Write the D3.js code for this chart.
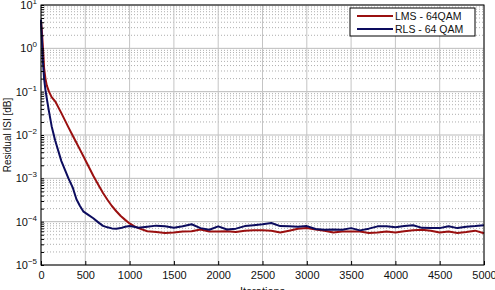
<!DOCTYPE html>
<html>
<head>
<meta charset="utf-8">
<script src="https://cdn.jsdelivr.net/npm/d3@7"></script>
<style>
  body { margin: 0; background: #fff; }
  svg { display: block; font-family: "Liberation Sans", Arial, sans-serif; }
</style>
</head>
<body>
<div class="canvas"></div>
<script>
// iterations shared by both curves
const iterations = [
  0, 10, 20, 35, 50, 65, 90, 120, 160, 230, 310, 360, 400, 440, 480, 530, 590, 650,
  700, 750, 800, 850, 900, 950, 1000, 1050, 1100,
  1200, 1300, 1400, 1500, 1600, 1700, 1800, 1900, 2000, 2100, 2200, 2300, 2400, 2500,
  2600, 2700, 2800, 2900, 3000, 3100, 3200, 3300, 3400, 3500, 3600, 3700, 3800, 3900,
  4000, 4100, 4200, 4300, 4400, 4500, 4600, 4700, 4800, 4900, 5000
];

// LMS - 64QAM residual ISI
const lmsValues = [
  4.3, 2.5, 1.2, 0.35, 0.2, 0.14, 0.1, 0.075, 0.06, 0.032, 0.015, 0.0095, 0.0066, 0.0046,
  0.0032, 0.002, 0.00115, 6.9e-4, 4.6e-4, 3.2e-4, 2.3e-4, 1.74e-4, 1.35e-4, 1.1e-4, 9.1e-5,
  7.9e-5, 7.1e-5,
  6.0e-5, 5.8e-5, 5.5e-5, 5.6e-5, 5.9e-5, 6.0e-5, 6.6e-5, 5.9e-5, 5.9e-5, 6.0e-5, 5.8e-5,
  6.2e-5, 6.3e-5, 6.3e-5, 6.2e-5, 5.6e-5, 6.2e-5, 6.9e-5, 7.1e-5, 6.6e-5, 6.2e-5, 5.6e-5,
  5.9e-5, 5.9e-5, 5.9e-5, 5.5e-5, 5.6e-5, 5.9e-5, 5.6e-5, 6.0e-5, 6.3e-5, 6.5e-5, 6.2e-5,
  5.6e-5, 5.9e-5, 5.5e-5, 5.8e-5, 6.2e-5, 5.4e-5
];

// RLS - 64 QAM residual ISI
const rlsValues = [
  4.6, 1.6, 0.55, 0.2, 0.11, 0.07, 0.035, 0.016, 0.0075, 0.0025, 0.001, 6e-4, 3.3e-4, 2.3e-4,
  1.7e-4, 1.45e-4, 1.2e-4, 9.5e-5, 8e-5, 7.4e-5, 7e-5, 6.9e-5, 7.1e-5, 7.6e-5, 7.9e-5,
  7.6e-5, 7.2e-5,
  7.6e-5, 8.1e-5, 7.8e-5, 7.2e-5, 7.8e-5, 8.7e-5, 7.1e-5, 6.5e-5, 7.8e-5, 6.6e-5, 6.9e-5,
  7.9e-5, 8.3e-5, 8.7e-5, 9.3e-5, 7.9e-5, 7.8e-5, 7.6e-5, 7.9e-5, 6.8e-5, 6.5e-5, 6.6e-5,
  6.5e-5, 7.1e-5, 6.3e-5, 6.9e-5, 7.8e-5, 7.8e-5, 7.4e-5, 7.9e-5, 8.3e-5, 7.2e-5, 7.1e-5,
  7.1e-5, 7.8e-5, 7.1e-5, 7.6e-5, 7.9e-5, 8.3e-5
];

const xTicks = [0, 500, 1000, 1500, 2000, 2500, 3000, 3500, 4000, 4500, 5000];
const yExponents = [1, 0, -1, -2, -3, -4, -5];
const seriesNames = ['LMS - 64QAM', 'RLS - 64 QAM'];
const seriesColors = ['#9a1010', '#0c0c5e'];

const width = 495, height = 290;
const margin = { top: 5, right: 11, bottom: 25, left: 41 };
const graphWidth = width - margin.left - margin.right;
const graphHeight = height - margin.top - margin.bottom;

const svg = d3.select('.canvas')
  .append('svg')
  .attr('width', width)
  .attr('height', height);

const graph = svg.append('g')
  .attr('transform', `translate(${margin.left}, ${margin.top})`);

// scales
const x = d3.scaleLinear().domain([0, 5000]).range([0, graphWidth]);
const y = d3.scaleLog().domain([1e-5, 10]).range([graphHeight, 0]);

// minor grid (dotted) at 2..9 of each decade
const minor = [];
for (let e = -5; e < 1; e++) {
  for (let m = 2; m <= 9; m++) minor.push(m * Math.pow(10, e));
}
graph.append('g').selectAll('line')
  .data(minor)
  .enter().append('line')
    .attr('x1', 0).attr('x2', graphWidth)
    .attr('y1', d => y(d)).attr('y2', d => y(d))
    .attr('stroke', '#999')
    .attr('stroke-width', 0.8)
    .attr('stroke-dasharray', '1,2');

// major grid
graph.append('g').selectAll('line')
  .data(yExponents.map(e => Math.pow(10, e)))
  .enter().append('line')
    .attr('x1', 0).attr('x2', graphWidth)
    .attr('y1', d => y(d)).attr('y2', d => y(d))
    .attr('stroke', '#bbb');
graph.append('g').selectAll('line')
  .data(xTicks)
  .enter().append('line')
    .attr('x1', d => x(d)).attr('x2', d => x(d))
    .attr('y1', 0).attr('y2', graphHeight)
    .attr('stroke', '#c4c4c4');

// curves
const line = d3.line()
  .x(d => x(d[0]))
  .y(d => y(d[1]));

[lmsValues, rlsValues].forEach((vals, i) => {
  graph.append('path')
    .datum(iterations.map((it, j) => [it, vals[j]]))
    .attr('fill', 'none')
    .attr('stroke', seriesColors[i])
    .attr('stroke-width', 2)
    .attr('stroke-linejoin', 'round')
    .attr('d', line);
});

// frame
graph.append('rect')
  .attr('width', graphWidth)
  .attr('height', graphHeight)
  .attr('fill', 'none')
  .attr('stroke', '#000');

// axes
const xAxis = d3.axisBottom(x)
  .tickValues(xTicks)
  .tickSizeInner(-4)
  .tickSizeOuter(0)
  .tickPadding(6)
  .tickFormat(d3.format('d'));
const xAxisGroup = graph.append('g')
  .attr('transform', `translate(0, ${graphHeight})`)
  .call(xAxis);
xAxisGroup.select('.domain').remove();
xAxisGroup.selectAll('text')
  .attr('font-size', 11)
  .attr('font-family', '"Liberation Sans", Arial, sans-serif')
  .attr('fill', '#111');

const yAxis = d3.axisLeft(y)
  .tickValues(minor.concat(yExponents.map(e => Math.pow(10, e))))
  .tickSizeInner(-3)
  .tickSizeOuter(0)
  .tickFormat('');
const yAxisGroup = graph.append('g').call(yAxis);
yAxisGroup.select('.domain').remove();

// decade labels with superscript
const yLabels = graph.append('g');
yExponents.forEach(e => {
  const t = yLabels.append('text')
    .attr('x', -4)
    .attr('y', y(Math.pow(10, e)) + 4)
    .attr('text-anchor', 'end')
    .attr('font-size', 11)
    .attr('fill', '#111');
  t.append('tspan').text('10');
  t.append('tspan')
    .attr('dy', -5)
    .attr('font-size', 8)
    .text(String(e).replace('-', '\u2212'));
});

// titles
svg.append('text')
  .attr('transform', `translate(11, ${margin.top + graphHeight / 2}) rotate(-90)`)
  .attr('text-anchor', 'middle')
  .attr('font-size', 10)
  .attr('fill', '#111')
  .text('Residual ISI [dB]');

svg.append('text')
  .attr('x', margin.left + graphWidth / 2)
  .attr('y', 295)
  .attr('text-anchor', 'middle')
  .attr('font-size', 11)
  .attr('fill', '#111')
  .text('Iterations');

// legend
const legend = svg.append('g').attr('transform', 'translate(350, 8)');
legend.append('rect')
  .attr('width', 125)
  .attr('height', 28)
  .attr('fill', '#fff')
  .attr('stroke', '#000');
seriesNames.forEach((name, i) => {
  const ly = 8 + i * 13;
  legend.append('line')
    .attr('x1', 7).attr('x2', 43)
    .attr('y1', ly).attr('y2', ly)
    .attr('stroke', seriesColors[i])
    .attr('stroke-width', 2);
  legend.append('text')
    .attr('x', 45)
    .attr('y', ly + 4)
    .attr('font-size', 10.5)
    .attr('fill', '#111')
    .text(name);
});
</script>
</body>
</html>
